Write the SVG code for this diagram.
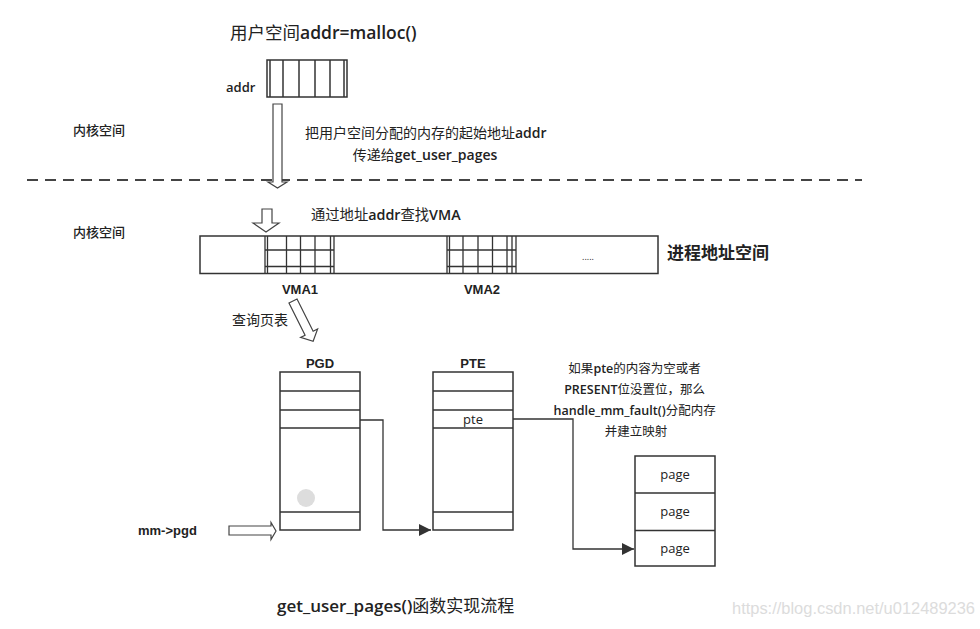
<svg xmlns="http://www.w3.org/2000/svg" width="980" height="629" viewBox="0 0 980 629">
<style>
.cjk{font-family:"Noto Sans CJK SC","Noto Sans",sans-serif;fill:#222}
.lat{font-family:"Open Sans","Noto Sans CJK SC",sans-serif;fill:#222}
.sb{font-weight:600}
.md{font-weight:500}
.nw{font-weight:normal}
.bold{font-family:"Liberation Sans",Arial,sans-serif;font-weight:bold;fill:#222}
.box{fill:#fff;stroke:#333;stroke-width:1.5}
.ln{stroke:#333;stroke-width:1.5;fill:none}
.grid{stroke:#333;stroke-width:1.3;fill:none}
.hollow{fill:#fff;stroke:#444;stroke-width:1.2;stroke-linejoin:miter}
.conn{stroke:#333;stroke-width:1.3;fill:none}
</style>
<defs>
<marker id="ah" viewBox="0 0 10 10" refX="10" refY="5" markerWidth="12" markerHeight="12" markerUnits="userSpaceOnUse" orient="auto">
<path d="M0,0 L10,5 L0,10 z" fill="#333"/>
</marker>
</defs>
<rect width="980" height="629" fill="#fff"/>

<g id="user-space">
<text class="cjk" x="230" y="39" font-size="17.5">用户空间<tspan class="lat sb">addr=malloc()</tspan></text>
<text class="lat sb" x="226" y="92" font-size="13">addr</text>
<rect class="box" x="267" y="60" width="80" height="37" stroke-width="2"/>
<line class="ln" x1="270" y1="60" x2="270" y2="97"/>
<line class="ln" x1="283" y1="60" x2="283" y2="97"/>
<line class="ln" x1="299" y1="60" x2="299" y2="97"/>
<line class="ln" x1="315" y1="60" x2="315" y2="97"/>
<line class="ln" x1="330" y1="60" x2="330" y2="97"/>
<line class="ln" x1="344" y1="60" x2="344" y2="97"/>
</g>

<g id="labels-kernel">
<text class="cjk md" x="73" y="135" font-size="13">内核空间</text>
<text class="cjk md" x="73" y="237" font-size="13">内核空间</text>
<text class="cjk" x="305" y="138" font-size="14">把用户空间分配的内存的起始地址<tspan class="lat sb">addr</tspan></text>
<text class="cjk" x="425" y="160" font-size="14" text-anchor="middle">传递给<tspan class="lat sb">get_user_pages</tspan></text>
<text class="cjk" x="311" y="220" font-size="14.3">通过地址<tspan class="lat sb">addr</tspan>查找<tspan class="lat sb">VMA</tspan></text>
</g>

<g id="divider">
<line x1="27" y1="180" x2="862" y2="180" stroke="#444" stroke-width="2" stroke-dasharray="11,7"/>
</g>

<g id="process-space">
<rect class="box" x="200" y="236" width="458" height="37.5"/>
<g id="vma1">
<path class="grid" d="M265,236V273.5M267.5,236V273.5M286.5,236V273.5M300.5,236V273.5M315,236V273.5M330.5,236V273.5M334,236V273.5M265,250H334M265,266.5H334"/>
</g>
<g id="vma2">
<path class="grid" d="M447,236V273.5M449.5,236V273.5M463,236V273.5M478,236V273.5M492.5,236V273.5M507,236V273.5M512,236V273.5M516,236V273.5M447,250H516M447,266.5H516"/>
</g>
<text class="lat" x="588" y="260" font-size="9" text-anchor="middle" fill="#666">.....</text>
<text class="bold" x="300" y="294" font-size="13" text-anchor="middle">VMA1</text>
<text class="bold" x="482" y="294" font-size="13" text-anchor="middle">VMA2</text>
<text class="cjk sb" x="667" y="259" font-size="17">进程地址空间</text>
</g>

<g id="pgd">
<text class="bold" x="320" y="368" font-size="13" text-anchor="middle">PGD</text>
<rect class="box" x="280" y="372" width="80" height="158"/>
<path class="ln" d="M280,391H360M280,410H360M280,428H360M280,512H360"/>
<circle cx="306" cy="498" r="9" fill="#ddd"/>
</g>

<g id="pte">
<text class="bold" x="473" y="368" font-size="13" text-anchor="middle">PTE</text>
<rect class="box" x="433" y="372" width="80" height="158"/>
<path class="ln" d="M433,391H513M433,410H513M433,428H513M433,512H513"/>
<text class="lat" x="473" y="424" font-size="13" text-anchor="middle">pte</text>
</g>

<g id="pages">
<rect class="box" x="635" y="456" width="80" height="110"/>
<path class="ln" d="M635,493H715M635,530.5H715"/>
<text class="lat" x="675" y="479" font-size="13" text-anchor="middle">page</text>
<text class="lat" x="675" y="516" font-size="13" text-anchor="middle">page</text>
<text class="lat" x="675" y="553" font-size="13" text-anchor="middle">page</text>
</g>

<g id="fault-note">
<text class="cjk" font-size="12.5" text-anchor="middle">
<tspan x="636" y="373">如果<tspan class="lat sb">pte</tspan>的内容为空或者</tspan>
<tspan x="636" y="394"><tspan class="lat sb">PRESENT</tspan>位没置位，那么</tspan>
<tspan x="636" y="415"><tspan class="lat sb">handle_mm_fault()</tspan>分配内存</tspan>
<tspan x="636" y="436">并建立映射</tspan>
</text>
</g>

<g id="mm-pgd">
<text class="bold" x="138" y="535" font-size="13">mm-&gt;pgd</text>
</g>

<g id="connectors">
<polygon class="hollow" points="273,104 282,104 282,182 287,182 277.5,188 268,182 273,182"/>
<polygon class="hollow" points="262,209 272,209 272,223 279,223 266,232 253,223 262,223"/>
<polygon class="hollow" transform="translate(293,301) rotate(-26.6)" points="-4.5,0 4.5,0 4.5,36 9.5,36 0,45 -9.5,36 -4.5,36"/>
<polygon class="hollow" points="229,526 271,526 271,522.5 276,531 271,539.5 271,535 229,535"/>
<path class="conn" d="M360,420H383V530H431" marker-end="url(#ah)"/>
<path class="conn" d="M513,419H573V549H634" marker-end="url(#ah)"/>
<text class="cjk" x="232" y="325" font-size="14">查询页表</text>
</g>

<g id="caption">
<text class="lat" x="277" y="612" font-size="17"><tspan class="sb">get_user_pages()</tspan><tspan class="cjk nw">函数实现流程</tspan></text>
<text x="732" y="614" font-size="16" font-family="Liberation Sans,Arial,sans-serif" fill="#dcdcdc" textLength="243" lengthAdjust="spacingAndGlyphs">https://blog.csdn.net/u012489236</text>
</g>
</svg>
